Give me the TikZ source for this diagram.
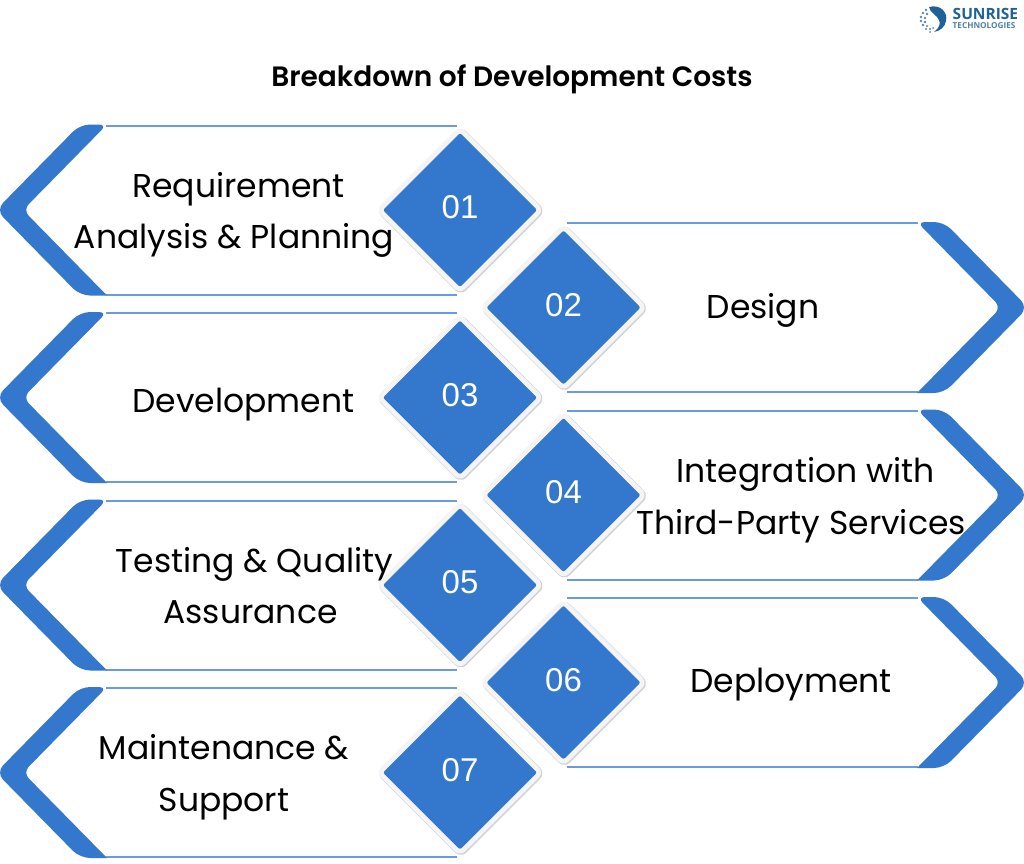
\documentclass[tikz,border=0pt]{standalone}
\usepackage{fontspec}
\usepackage{xcolor}
\usetikzlibrary{shapes.geometric}
\setmainfont{Poppins}
\newfontfamily\titlefont{Poppins SemiBold}
\newfontfamily\digitfont{Liberation Sans}
\newfontfamily\logofont{Open Sans}
\definecolor{bandblue}{HTML}{3378CC}
\definecolor{bandline}{HTML}{6A9ADF}
\definecolor{halogray}{HTML}{F4F4F4}
\definecolor{logoblue}{HTML}{1F6199}
\definecolor{logogray}{HTML}{4F7FA6}
\tikzset{
  leftband/.pic={
    \draw[bandline,line width=2pt] (106,-84.5)--(457,-84.5);
    \draw[bandline,line width=2pt] (106,84.5)--(457,84.5);
    \fill[bandblue] (107,-85.5) [rounded corners=10] -- (80,-85.5) -- (-4,0) -- (80,85.5) [sharp corners] -- (107,85.5) [rounded corners=8] -- (23,0) -- cycle;
  },
  rightband/.pic={
    \draw[bandline,line width=2pt] (918,-84.5)--(567,-84.5);
    \draw[bandline,line width=2pt] (918,84.5)--(567,84.5);
    \fill[bandblue] (917,-85.5) [rounded corners=10] -- (944,-85.5) -- (1028,0) -- (944,85.5) [sharp corners] -- (917,85.5) [rounded corners=8] -- (1001,0) -- cycle;
  },
  numbox/.style={shape=diamond,minimum size=154pt,inner sep=0pt,outer sep=0pt,aspect=1,
    fill=bandblue,rounded corners=2pt,text=white,text depth=6pt,font=\digitfont\fontsize{33}{36}\selectfont,
    preaction={draw=black!18,line width=11pt,line join=round,transform canvas={shift={(0.8pt,-0.8pt)}}},
    preaction={draw=halogray,line width=10pt,line join=round}},
  bandlabel/.style={align=center,text=black,font=\fontsize{33}{51.5}\selectfont}
}
\begin{document}
\begin{tikzpicture}[x=1pt,y=-1pt]
  \useasboundingbox (0,0) rectangle (1024,863);
  \fill[white] (0,0) rectangle (1024,863);
  \node (title) at (512,79) {\titlefont\fontsize{28}{32}\selectfont Breakdown of Development Costs};
  % logo
  \fill[logoblue] (929,7) .. controls (940,4) and (948,12) .. (946,21) .. controls (945,27) and (940,31) .. (934,32) .. controls (939,28) and (941,24) .. (939,20) .. controls (937,15) and (930,13) .. (929,7) -- cycle;
  \fill[logoblue!75] (926,10) circle (1.4) (923,13) circle (1.4) (927,14) circle (1.3) (921,17) circle (1.4) (925,18) circle (1.3) (921,21) circle (1.4) (925,22) circle (1.3) (923,25) circle (1.3) (927,26) circle (1.2) (926,29) circle (1.2) (930,29) circle (1.1) (930,32) circle (1) (933,28) circle (1);
  \node[anchor=west,inner sep=0pt,text=logoblue] (logotop) at (952.5,14) {\logofont\fontsize{15.5}{16}\selectfont\bfseries SUNRISE};
  \node[anchor=west,inner sep=0pt,text=logogray] (logobot) at (952.5,26) {\logofont\fontsize{8.2}{8}\selectfont\bfseries TECHNOLOGIES};
  % left bands
  \pic at (0,210) {leftband};
  \pic at (0,397.5) {leftband};
  \pic at (0,585) {leftband};
  \pic at (0,772.5) {leftband};
  % right bands
  \pic at (0,307.5) {rightband};
  \pic at (0,495) {rightband};
  \pic at (0,682.5) {rightband};
  % labels
  \node[bandlabel] (req) at (234,215) {\hspace*{9pt}Requirement\\Analysis \& Planning};
  \node[bandlabel] (design) at (763,310.5) {Design};
  \node[bandlabel] (dev) at (243.5,404.5) {Development};
  \node[bandlabel] (integ) at (801,500) {\hspace*{9pt}Integration with\\Third-Party Services};
  \node[bandlabel] (test) at (250.5,585.5) {\hspace*{8pt}Testing \& Quality\\Assurance};
  \node[bandlabel] (deploy) at (791,685) {Deployment};
  \node[bandlabel] (maint) at (224,777) {Maintenance \&\\Support};
  % diamonds
  \node[numbox] (n1) at (460,210) {01};
  \node[numbox] (n3) at (460,397.5) {03};
  \node[numbox] (n5) at (460,585) {05};
  \node[numbox] (n7) at (460,772.5) {07};
  \node[numbox] (n2) at (563.5,307.5) {02};
  \node[numbox] (n4) at (563.5,495) {04};
  \node[numbox] (n6) at (563.5,682.5) {06};
\end{tikzpicture}
\end{document}
